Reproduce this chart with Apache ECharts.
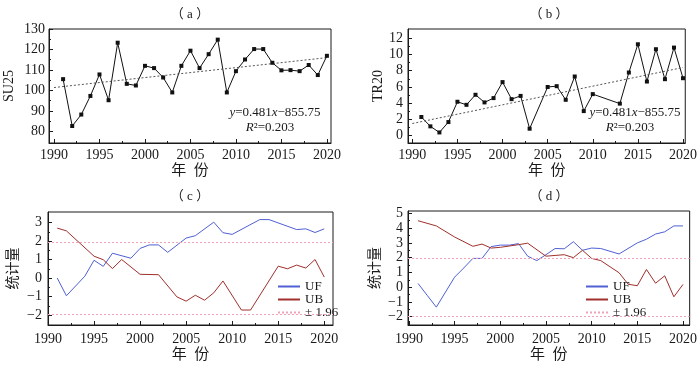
<!DOCTYPE html>
<html>
<head>
<meta charset="utf-8">
<script src="https://cdn.jsdelivr.net/npm/echarts@6/dist/echarts.min.js"></script>
<style>html,body{margin:0;padding:0;background:#fff;}#chart{width:700px;height:370px;}</style>
</head>
<body>
<div id="chart"></div>
<script>
// ---------- data ----------
const yearsA = [1991,1992,1993,1994,1995,1996,1997,1998,1999,2000,2001,2002,2003,2004,2005,2006,2007,2008,2009,2010,2011,2012,2013,2014,2015,2016,2017,2018,2019,2020];
const su25 = [105.5,82.6,88.2,97.3,107.8,95.2,123.3,103.2,102.4,112.0,110.9,106.3,99.0,112.0,119.4,110.9,117.7,124.8,99.0,109.4,115.1,120.2,120.2,113.5,109.8,109.9,109.4,112.4,107.5,116.9];
const trendAYears = [1990, 2020];
const trendAValues = [101.4, 116.0];

const yearsB = [1991,1992,1993,1994,1995,1996,1997,1998,1999,2000,2001,2002,2003,2005,2006,2007,2008,2009,2010,2013,2014,2015,2016,2017,2018,2019,2020];
const tr20 = [2.3,1.15,0.4,1.68,4.18,3.8,5.04,4.1,4.63,6.6,4.5,4.9,0.86,6.0,6.1,4.42,7.29,3.03,5.12,3.95,7.78,11.26,6.67,10.65,6.96,10.85,7.08];
const trendBYears = [1990, 2020];
const trendBValues = [1.5, 8.4];

const ufCYears = [1991,1992,1994,1995,1996,1997,1999,2000,2001,2002,2003,2005,2006,2008,2009,2010,2013,2014,2017,2018,2019,2020];
const ufC = [0.0,-0.96,0.1,0.96,0.63,1.34,1.07,1.6,1.79,1.79,1.39,2.16,2.29,3.02,2.45,2.36,3.16,3.16,2.62,2.66,2.46,2.66];
const ubCYears = [1991,1992,1995,1996,1997,1998,2000,2002,2004,2005,2006,2007,2008,2009,2011,2012,2015,2016,2017,2018,2019,2020];
const ubC = [2.7,2.55,1.18,0.99,0.51,1.0,0.2,0.18,-1.02,-1.25,-0.93,-1.2,-0.8,-0.16,-1.73,-1.73,0.64,0.5,0.7,0.54,1.0,0.05];

const ufDYears = [1991,1992,1993,1995,1996,1997,1998,1999,2000,2001,2002,2003,2004,2005,2006,2007,2008,2009,2010,2011,2013,2015,2016,2017,2018,2019,2020];
const ufD = [0.25,-0.55,-1.35,0.68,1.3,1.95,1.95,2.75,2.85,2.85,2.95,2.1,1.8,2.2,2.62,2.6,3.08,2.5,2.65,2.62,2.25,3.0,3.25,3.6,3.75,4.15,4.15];
const ubDYears = [1991,1993,1995,1997,1998,1999,2000,2002,2003,2005,2006,2007,2008,2009,2010,2011,2013,2014,2015,2016,2017,2018,2019,2020];
const ubD = [4.5,4.15,3.4,2.77,2.92,2.65,2.7,2.88,2.98,2.1,2.15,2.2,2.0,2.5,1.95,1.8,0.98,0.2,0.1,1.2,0.27,0.77,-0.65,0.19];

const threshold = 1.96;

// tick labels
const xTicks = [1990,1995,2000,2005,2010,2015,2020];
const yTicksA = [80,90,100,110,120,130];
const yTicksB = [0,2,4,6,8,10,12];
const yTicksC = [-2,-1,0,1,2,3];
const yTicksD = [-2,-1,0,1,2,3,4,5];

// ---------- styling ----------
const FONT = "'Liberation Serif', 'Noto Sans CJK SC', serif";
const INK = '#1a1a1a';
const UF_COLOR = '#5060d4';
const UB_COLOR = '#a0302c';
const PINK = '#f2a2b6';

function mids(t){ const r=[]; for(let i=0;i<t.length-1;i++) r.push((t[i]+t[i+1])/2); return r; }
function zip(xs, ys){ return xs.map((x,i)=>[x, ys[i]]); }
const fmt = v => String(v).replace('-', '\u2212');

const panels = [
  {grid:{left:49, top:29, width:282, height:114}, x:[1989.45,2020.45], y:[74.3,130], yt:yTicksA, yname:'SU25', ygap:33, xgap:21, xm:5, ym:4},
  {grid:{left:408, top:29, width:282, height:114}, x:[1989.52,2020.25], y:[-0.9,13.14], yt:yTicksB, yname:'TR20', ygap:22, xgap:21, xm:5, ym:5},
  {grid:{left:48, top:212, width:285, height:113}, x:[1990.0,2020.95], y:[-2.54,3.57], yt:yTicksC, yname:'统计量', ygap:28, xgap:23, xm:7, ym:6},
  {grid:{left:408, top:211, width:282, height:114}, x:[1989.9,2020.73], y:[-2.56,5.16], yt:yTicksD, yname:'统计量', ygap:26, xgap:23, xm:7, ym:5}
];

const grids = [], xAxes = [], yAxes = [];
panels.forEach((p, g) => {
  grids.push(Object.assign({show:true, borderColor:INK, borderWidth:1, backgroundColor:'transparent'}, p.grid));
  xAxes.push({
    type:'value', gridIndex:g, min:p.x[0], max:p.x[1], position:'bottom',
    axisLine:{show:true, onZero:false, lineStyle:{color:INK, width:1}},
    axisTick:{show:true, inside:true, length:4, customValues:xTicks, lineStyle:{color:INK}},
    axisLabel:{customValues:xTicks, formatter:fmt, margin:p.xm, fontSize:14, color:INK, fontFamily:FONT},
    splitLine:{show:false},
    name:'年  份', nameLocation:'middle', nameGap:p.xgap,
    nameTextStyle:{fontSize:15, color:INK, fontFamily:FONT}
  });
  xAxes.push({
    type:'value', gridIndex:g, min:p.x[0], max:p.x[1], position:'bottom',
    axisLine:{show:false, onZero:false}, axisLabel:{show:false}, splitLine:{show:false},
    axisTick:{show:true, inside:true, length:2, customValues:mids(xTicks), lineStyle:{color:INK}}
  });
  yAxes.push({
    type:'value', gridIndex:g, min:p.y[0], max:p.y[1], position:'left',
    axisLine:{show:true, onZero:false, lineStyle:{color:INK, width:1}},
    axisTick:{show:true, inside:true, length:4, customValues:p.yt, lineStyle:{color:INK}},
    axisLabel:{customValues:p.yt, formatter:fmt, margin:p.ym, fontSize:14, color:INK, fontFamily:FONT},
    splitLine:{show:false},
    name:p.yname, nameLocation:'middle', nameGap:p.ygap, nameRotate:90,
    nameTextStyle:{fontSize:14, color:INK, fontFamily:FONT}
  });
  yAxes.push({
    type:'value', gridIndex:g, min:p.y[0], max:p.y[1], position:'left',
    axisLine:{show:false, onZero:false}, axisLabel:{show:false}, splitLine:{show:false},
    axisTick:{show:true, inside:true, length:2, customValues:mids(p.yt), lineStyle:{color:INK}}
  });
});

function obsSeries(g, data){
  return {type:'line', xAxisIndex:2*g, yAxisIndex:2*g, data, symbol:'rect', symbolSize:4,
    itemStyle:{color:'#111'}, lineStyle:{color:'#111', width:1}, silent:true};
}
function trendSeries(g, data){
  return {type:'line', xAxisIndex:2*g, yAxisIndex:2*g, data, symbol:'none',
    lineStyle:{color:'#555', width:1, type:[2,2]}, silent:true};
}
function mkSeries(g, name, data, color){
  return {type:'line', name, xAxisIndex:2*g, yAxisIndex:2*g, data, symbol:'none',
    itemStyle:{color}, lineStyle:{color, width:1}, silent:true};
}
function threshSeries(g){
  return {type:'line', name:'± 1.96', xAxisIndex:2*g, yAxisIndex:2*g, data:[], symbol:'none',
    itemStyle:{color:PINK}, lineStyle:{color:PINK, width:1, type:[2,2]},
    markLine:{silent:true, symbol:['none','none'], label:{show:false},
      lineStyle:{color:PINK, width:1, type:[2,2]},
      data:[{yAxis:threshold},{yAxis:-threshold}]}};
}

const series = [
  obsSeries(0, zip(yearsA, su25)),
  trendSeries(0, zip(trendAYears, trendAValues)),
  obsSeries(1, zip(yearsB, tr20)),
  trendSeries(1, zip(trendBYears, trendBValues)),
  mkSeries(2, 'UF', zip(ufCYears, ufC), UF_COLOR),
  mkSeries(2, 'UB', zip(ubCYears, ubC), UB_COLOR),
  threshSeries(2),
  mkSeries(3, 'UF', zip(ufDYears, ufD), UF_COLOR),
  mkSeries(3, 'UB', zip(ubDYears, ubD), UB_COLOR),
  threshSeries(3)
];

function legendAt(left, top){
  return {data:['UF','UB','± 1.96'], orient:'vertical', left, top, itemWidth:22, itemHeight:8,
    itemGap:0, selectedMode:false, itemStyle:{opacity:0},
    textStyle:{fontSize:13, color:INK, fontFamily:FONT, lineHeight:12}};
}

const eqStyle = {fontSize:13, fill:INK, fontFamily:FONT, align:'center', verticalAlign:'middle',
  rich:{i:{fontStyle:'italic', fontSize:13, fontFamily:FONT, fill:INK}}};
function txt(x, y, text, extra){
  return {type:'text', x, y, silent:true, style:Object.assign({}, eqStyle, {text}, extra||{})};
}

const option = {
  animation:false,
  backgroundColor:'#fff',
  grid:grids, xAxis:xAxes, yAxis:yAxes, series,
  legend:[legendAt(272, 275), legendAt(580, 275)],
  graphic:[
    txt(190, 15, '（ a ）'),
    txt(549, 15, '（ b ）'),
    txt(190, 197, '（ c ）'),
    txt(549, 197, '（ d ）'),
    txt(275, 113, '{i|y}=0.481{i|x}\u2212855.75'),
    txt(270, 128, '{i|R}\u00b2=0.203'),
    txt(635, 113, '{i|y}=0.481{i|x}\u2212855.75'),
    txt(630, 128, '{i|R}\u00b2=0.203')
  ]
};

const chart = echarts.init(document.getElementById('chart'), null, {renderer:'canvas'});
chart.setOption(option);
</script>
</body>
</html>
